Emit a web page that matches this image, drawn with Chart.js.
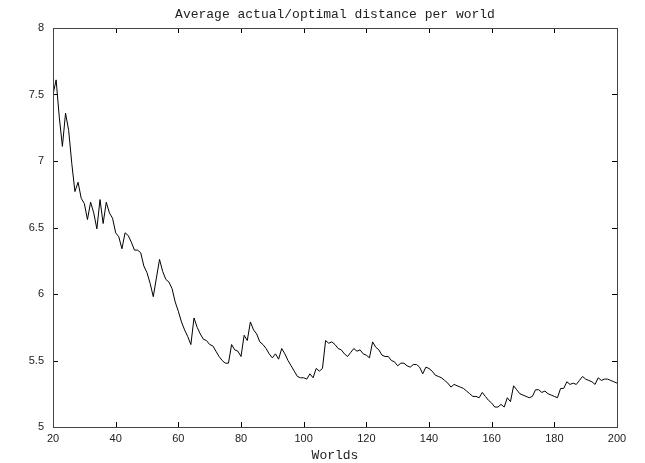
<!DOCTYPE html>
<html>
<head>
<meta charset="utf-8">
<title>Average actual/optimal distance per world</title>
<script src="https://cdn.jsdelivr.net/npm/chart.js@4/dist/chart.umd.min.js"></script>
<style>
  html, body { margin: 0; padding: 0; background: #fff; }
  #wrap { width: 645px; height: 463px; }
</style>
</head>
<body>
<div id="wrap"><canvas id="chart" width="645" height="463"></canvas></div>
<script>
const chartTitle = 'Average actual/optimal distance per world';
const xAxisTitle = 'Worlds';

// First world index; one average per world after that
const firstWorld = 20;

// Average actual/optimal distance, worlds 20..200
const avgRatio = [
  7.50, 7.61, 7.33, 7.11, 7.36, 7.23, 6.98, 6.77, 6.84, 6.72,
  6.68, 6.56, 6.69, 6.61, 6.49, 6.71, 6.53, 6.69, 6.61, 6.57,
  6.46, 6.43, 6.34, 6.46, 6.44, 6.39, 6.33, 6.33, 6.31, 6.21,
  6.16, 6.08, 5.98, 6.12, 6.26, 6.17, 6.11, 6.09, 6.04, 5.94,
  5.87, 5.79, 5.73, 5.68, 5.62, 5.82, 5.75, 5.70, 5.66, 5.65,
  5.62, 5.61, 5.57, 5.53, 5.50, 5.48, 5.48, 5.62, 5.58, 5.57,
  5.53, 5.69, 5.65, 5.79, 5.73, 5.70, 5.64, 5.62, 5.59, 5.55,
  5.52, 5.55, 5.51, 5.59, 5.55, 5.50, 5.46, 5.42, 5.38, 5.37,
  5.37, 5.36, 5.40, 5.37, 5.44, 5.42, 5.44, 5.65, 5.63, 5.64,
  5.62, 5.59, 5.58, 5.55, 5.53, 5.56, 5.59, 5.57, 5.58, 5.55,
  5.54, 5.52, 5.64, 5.60, 5.58, 5.54, 5.53, 5.53, 5.50, 5.49,
  5.46, 5.48, 5.48, 5.46, 5.45, 5.47, 5.47, 5.45, 5.40, 5.45,
  5.44, 5.42, 5.39, 5.38, 5.37, 5.35, 5.33, 5.30, 5.32, 5.31,
  5.30, 5.29, 5.27, 5.25, 5.23, 5.23, 5.22, 5.26, 5.23, 5.20,
  5.18, 5.15, 5.15, 5.17, 5.15, 5.22, 5.19, 5.31, 5.28, 5.25,
  5.24, 5.23, 5.22, 5.23, 5.28, 5.28, 5.26, 5.27, 5.25, 5.24,
  5.23, 5.22, 5.29, 5.29, 5.34, 5.32, 5.33, 5.32, 5.35, 5.38,
  5.36, 5.35, 5.34, 5.32, 5.37, 5.35, 5.36, 5.36, 5.35, 5.34,
  5.33
];

// Axis tick values
const xTicks = [20, 40, 60, 80, 100, 120, 140, 160, 180, 200];
const yTicks = [5, 5.5, 6, 6.5, 7, 7.5, 8];

const points = avgRatio.map((v, i) => ({ x: firstWorld + i, y: v }));

// Frame, inward tick marks on all four sides, and the title
const framePlugin = {
  id: 'frame',
  afterDraw(chart) {
    const { ctx, chartArea: a, scales } = chart;
    const tick = 5;
    ctx.save();
    ctx.lineWidth = 1;
    ctx.strokeStyle = '#000';
    ctx.beginPath();
    xTicks.forEach(v => {
      const px = Math.round(scales.x.getPixelForValue(v)) + 0.5;
      ctx.moveTo(px, a.bottom); ctx.lineTo(px, a.bottom - tick);
      ctx.moveTo(px, a.top); ctx.lineTo(px, a.top + tick);
    });
    yTicks.forEach(v => {
      const py = Math.round(scales.y.getPixelForValue(v)) + 0.5;
      ctx.moveTo(a.left, py); ctx.lineTo(a.left + tick, py);
      ctx.moveTo(a.right, py); ctx.lineTo(a.right - tick, py);
    });
    ctx.stroke();
    ctx.strokeStyle = '#444';
    ctx.strokeRect(Math.round(a.left) + 0.5, Math.round(a.top) + 0.5,
                   Math.round(a.right - a.left), Math.round(a.bottom - a.top));
    ctx.fillStyle = '#222';
    ctx.font = '13px "Liberation Mono", "DejaVu Sans Mono", monospace';
    ctx.textAlign = 'center';
    ctx.textBaseline = 'middle';
    ctx.fillText(chartTitle, (a.left + a.right) / 2, 14.5);
    ctx.restore();
  }
};

new Chart(document.getElementById('chart'), {
  type: 'line',
  data: {
    datasets: [{
      data: points,
      borderColor: '#000',
      borderWidth: 1,
      pointRadius: 0,
      tension: 0,
      fill: false
    }]
  },
  options: {
    responsive: false,
    animation: false,
    layout: { padding: { top: 28, right: 28, left: 0, bottom: 0 } },
    plugins: {
      legend: { display: false },
      title: { display: false },
      tooltip: { enabled: false }
    },
    scales: {
      x: {
        type: 'linear',
        min: 20,
        max: 200,
        afterBuildTicks(scale) { scale.ticks = xTicks.map(v => ({ value: v })); },
        afterFit(scale) { scale.height = 36; },
        grid: { display: false, drawTicks: false },
        border: { display: false },
        ticks: {
          padding: 5,
          color: '#222',
          font: { family: '"Liberation Sans", Arial, sans-serif', size: 11 },
          callback: v => String(v)
        },
        title: {
          display: true,
          text: xAxisTitle,
          color: '#222',
          font: { family: '"Liberation Mono", "DejaVu Sans Mono", monospace', size: 13 },
          padding: { top: 0, bottom: 0 }
        }
      },
      y: {
        min: 5,
        max: 8,
        afterBuildTicks(scale) { scale.ticks = yTicks.map(v => ({ value: v })); },
        afterFit(scale) { scale.width = 53; },
        grid: { display: false, drawTicks: false },
        border: { display: false },
        ticks: {
          padding: 9,
          color: '#222',
          font: { family: '"Liberation Sans", Arial, sans-serif', size: 11 },
          callback: v => String(v)
        }
      }
    }
  },
  plugins: [framePlugin]
});
</script>
</body>
</html>
